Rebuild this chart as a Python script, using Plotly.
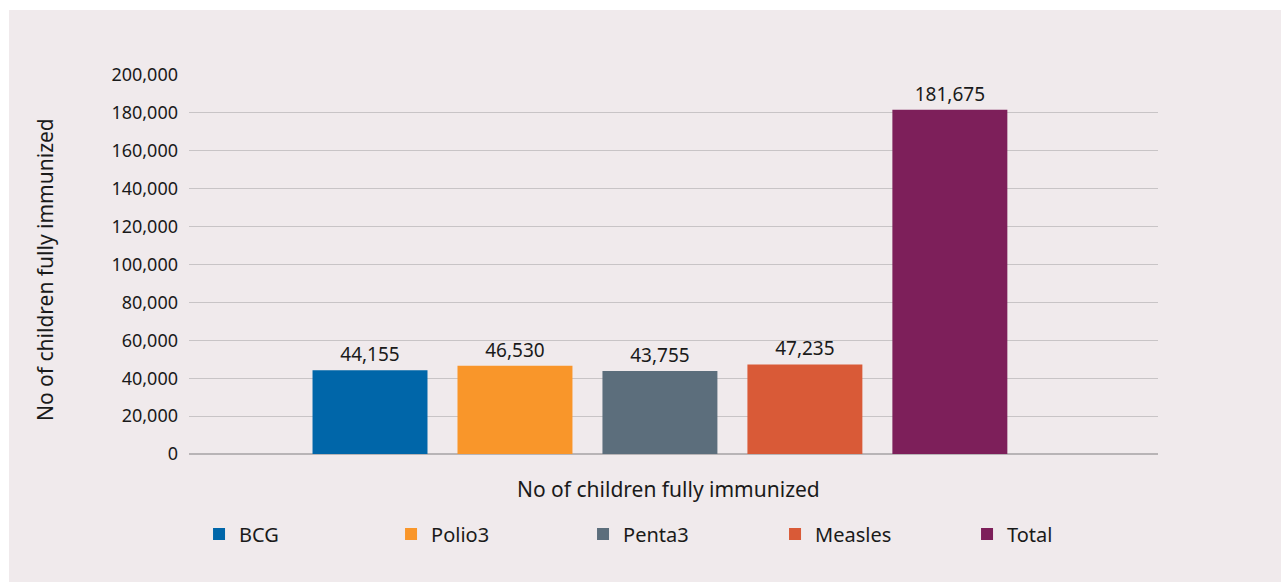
import plotly.graph_objects as go

categories = ["No of children fully immunized"]
series_names = ["BCG", "Polio3", "Penta3", "Measles", "Total"]
series_values = [44155, 46530, 43755, 47235, 181675]
series_colors = ["#0066a9", "#f9962a", "#5c6e7c", "#d95a37", "#7d1f5a"]
y_tick_values = [0, 20000, 40000, 60000, 80000, 100000, 120000, 140000, 160000, 180000, 200000]
y_tick_labels = ["0", "20,000", "40,000", "60,000", "80,000", "100,000", "120,000",
                 "140,000", "160,000", "180,000", "200,000"]

FONT = "Noto Sans"
W, H = 1281, 582
L, R, T, B = 189, 1158, 75, 454
pw, ph = R - L, B - T

def px_x(px):
    return (px - L) / pw

def px_y(py):
    return (B - py) / ph

fig = go.Figure()
for name, val, col in zip(series_names, series_values, series_colors):
    fig.add_trace(go.Bar(
        name=name, x=categories, y=[val], marker_color=col, marker_line_width=0,
        text=[f"{val:,}"], textposition="outside", cliponaxis=False,
        textfont=dict(family=FONT, size=19, color="#1a1a1a"),
    ))

fig.update_layout(
    width=W, height=H,
    margin=dict(l=L, r=W - R, t=T, b=H - B, pad=0),
    paper_bgcolor="white",
    plot_bgcolor="rgba(0,0,0,0)",
    barmode="group", bargap=0.252, bargroupgap=0.207,
    font=dict(family=FONT, size=18, color="#1a1a1a"),
    showlegend=True,
    legend=dict(
        orientation="h", x=-0.001, xanchor="left", y=px_y(534), yanchor="middle",
        entrywidth=136, entrywidthmode="pixels", itemwidth=30, indentation=11,
        font=dict(family=FONT, size=20, color="#1a1a1a"),
        bgcolor="rgba(0,0,0,0)", tracegroupgap=0, traceorder="normal",
    ),
    xaxis=dict(
        showticklabels=False, showgrid=False, zeroline=False, showline=False,
        range=[-0.486, 0.514], fixedrange=True,
    ),
    yaxis=dict(
        range=[0, 200000], tickvals=y_tick_values, ticktext=y_tick_labels,
        showgrid=True, gridcolor="#c8c4c6", gridwidth=1.3,
        zeroline=True, zerolinecolor="#b8b4b6", zerolinewidth=1.5,
        showline=False, ticks="", ticklabelstandoff=10,
        tickfont=dict(family=FONT, size=18, color="#1a1a1a"),
    ),
    shapes=[dict(
        type="rect", xref="paper", yref="paper", layer="below",
        x0=px_x(9), x1=px_x(1290), y0=px_y(590), y1=px_y(10),
        fillcolor="#f0eaec", line=dict(width=0),
    )],
    annotations=[
        dict(text="No of children fully immunized", xref="paper", yref="paper",
             x=px_x(668), y=px_y(489), xanchor="center", yanchor="middle",
             showarrow=False, font=dict(family=FONT, size=21, color="#1a1a1a")),
        dict(text="No of children fully immunized", xref="paper", yref="paper",
             x=px_x(45), y=px_y(270), xanchor="center", yanchor="middle",
             textangle=-90, showarrow=False,
             font=dict(family=FONT, size=21, color="#1a1a1a")),
    ],
)

fig.write_html(
    "out.html",
    config={"displayModeBar": False},
    post_script="document.body.style.margin='0';document.body.style.overflow='hidden';",
)
